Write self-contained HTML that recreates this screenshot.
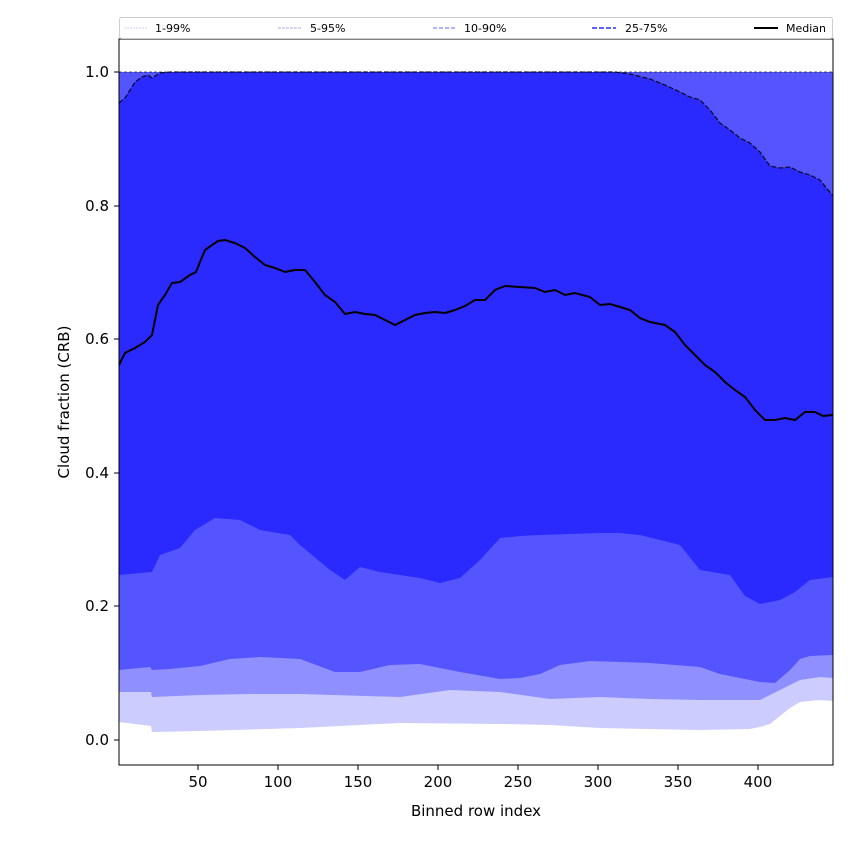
<!DOCTYPE html>
<html><head><style>body{margin:0;background:#fff}svg{display:block}text{font-family:"DejaVu Sans","Liberation Sans",sans-serif}</style></head><body>
<svg width="850" height="850" viewBox="0 0 850 850" xmlns="http://www.w3.org/2000/svg">
<rect width="850" height="850" fill="#fff"/>
<defs><clipPath id="c"><rect x="119" y="39" width="714" height="726"/></clipPath></defs>
<g clip-path="url(#c)">
<!-- 1-99 band -->
<polygon fill="#ccccff" points="119,72 833,72 833,701 820,700 800,702 790,708 780,716 770,724 760,727 750,729 700,730 600,728 550,725 500,724 400,723 300,728 200,731 152,732 151,726 119,722"/>
<!-- 5-95 -->
<polygon fill="#8f8fff" points="119,72 833,72 833,678 820,677 800,680 780,690 760,700 700,700 650,699 600,697 550,699 500,692 450,690 400,697 300,694 250,694 200,695 152,697 151,692 119,692"/>
<!-- 10-90 -->
<polygon fill="#5555ff" points="119,72 833,72 833,655 810,656 800,659 790,670 775,683 760,682 720,674 700,667 650,663 590,661 560,665 540,674 520,678 500,679 460,672 420,664 390,665 360,672 335,672 300,659 280,658 260,657 230,659 200,666 170,669 152,670 150,667 119,670"/>
<!-- 25-75 -->
<polygon fill="#2a2aff" points="119,103 125,98 135,82 142,77 148,75 152,78 160,73 170,72 615,72 630,74 650,79 665,85 680,92 690,97 700,100 710,110 720,123 730,130 740,138 750,143 760,152 770,166 780,168 790,167 800,172 810,175 820,180 833,196 833,577 810,580 795,592 780,600 760,604 745,596 730,575 700,570 680,545 660,540 640,535 620,533 600,533 570,534 540,535 520,536 500,538 480,560 460,578 440,583 420,578 400,575 380,572 360,567 345,580 330,570 300,545 290,535 260,530 240,520 215,518 195,530 180,548 160,555 152,572 119,575"/>
<line x1="119" y1="72" x2="833" y2="72" stroke="#000" stroke-width="1" stroke-dasharray="3,2" opacity="0.6"/>
<polyline fill="none" stroke="#000" stroke-width="1.3" stroke-dasharray="5,2" opacity="0.8" points="119,103 125,98 135,82 142,77 148,75 152,78 160,73 170,72 615,72 630,74 650,79 665,85 680,92 690,97 700,100 710,110 720,123 730,130 740,138 750,143 760,152 770,166 780,168 790,167 800,172 810,175 820,180 833,196"/>
<polyline fill="none" stroke="#000" stroke-width="2" points="119,365 125,353 135,348 145,342 152,335 158,305 165,295 172,283 180,282 190,275 196,272 200,262 205,250 212,245 218,241 225,240 235,243 245,248 255,257 265,265 275,268 285,272 295,270 305,270 315,282 325,295 335,302 345,314 355,312 365,314 375,315 385,320 395,325 405,320 415,315 425,313 435,312 445,313 455,310 465,306 475,300 485,300 495,290 505,286 520,287 535,288 545,292 555,290 565,295 575,293 590,297 600,305 610,304 620,307 630,310 640,318 650,322 665,325 675,332 685,345 695,355 705,365 715,372 725,382 735,390 745,397 755,410 765,420 775,420 785,418 795,420 805,412 815,412 823,416 833,415"/>
</g>
<rect x="119" y="39" width="714" height="726" fill="none" stroke="#000" stroke-width="1"/>
<!-- legend -->
<rect x="119.5" y="17.5" width="713" height="21" fill="#fff" stroke="#ccc" rx="2"/>
<line x1="124" y1="28" x2="148" y2="28" stroke="#ccccff" stroke-width="1" stroke-dasharray="2,1"/>
<text x="155" y="32" font-size="11">1-99%</text>
<line x1="278" y1="28" x2="302" y2="28" stroke="#aaaaee" stroke-width="1" stroke-dasharray="3,1"/>
<text x="310" y="32" font-size="11">5-95%</text>
<line x1="433" y1="28" x2="457" y2="28" stroke="#8080ff" stroke-width="1.3" stroke-dasharray="4,2"/>
<text x="464" y="32" font-size="11">10-90%</text>
<line x1="592" y1="28" x2="616" y2="28" stroke="#6060ff" stroke-width="2" stroke-dasharray="5,2"/>
<text x="625" y="32" font-size="11">25-75%</text>
<line x1="754" y1="28" x2="778" y2="28" stroke="#000" stroke-width="2"/>
<text x="786" y="32" font-size="11">Median</text>
<!-- axes ticks -->
<g stroke="#000" stroke-width="1">
<line x1="198" y1="765" x2="198" y2="770"/><line x1="278" y1="765" x2="278" y2="770"/><line x1="358" y1="765" x2="358" y2="770"/><line x1="438" y1="765" x2="438" y2="770"/><line x1="518" y1="765" x2="518" y2="770"/><line x1="598" y1="765" x2="598" y2="770"/><line x1="678" y1="765" x2="678" y2="770"/><line x1="758" y1="765" x2="758" y2="770"/>
<line x1="114" y1="740" x2="119" y2="740"/><line x1="114" y1="606" x2="119" y2="606"/><line x1="114" y1="473" x2="119" y2="473"/><line x1="114" y1="339" x2="119" y2="339"/><line x1="114" y1="206" x2="119" y2="206"/><line x1="114" y1="72" x2="119" y2="72"/>
</g>
<g font-size="15" text-anchor="middle">
<text x="198" y="787">50</text><text x="278" y="787">100</text><text x="358" y="787">150</text><text x="438" y="787">200</text><text x="518" y="787">250</text><text x="598" y="787">300</text><text x="678" y="787">350</text><text x="758" y="787">400</text>
<text x="476" y="816">Binned row index</text>
</g>
<g font-size="15" text-anchor="end">
<text x="109" y="745">0.0</text><text x="109" y="611">0.2</text><text x="109" y="478">0.4</text><text x="109" y="344">0.6</text><text x="109" y="211">0.8</text><text x="109" y="77">1.0</text>
</g>
<text transform="translate(69,402) rotate(-90)" font-size="15" text-anchor="middle">Cloud fraction (CRB)</text>
</svg>
</body></html>
